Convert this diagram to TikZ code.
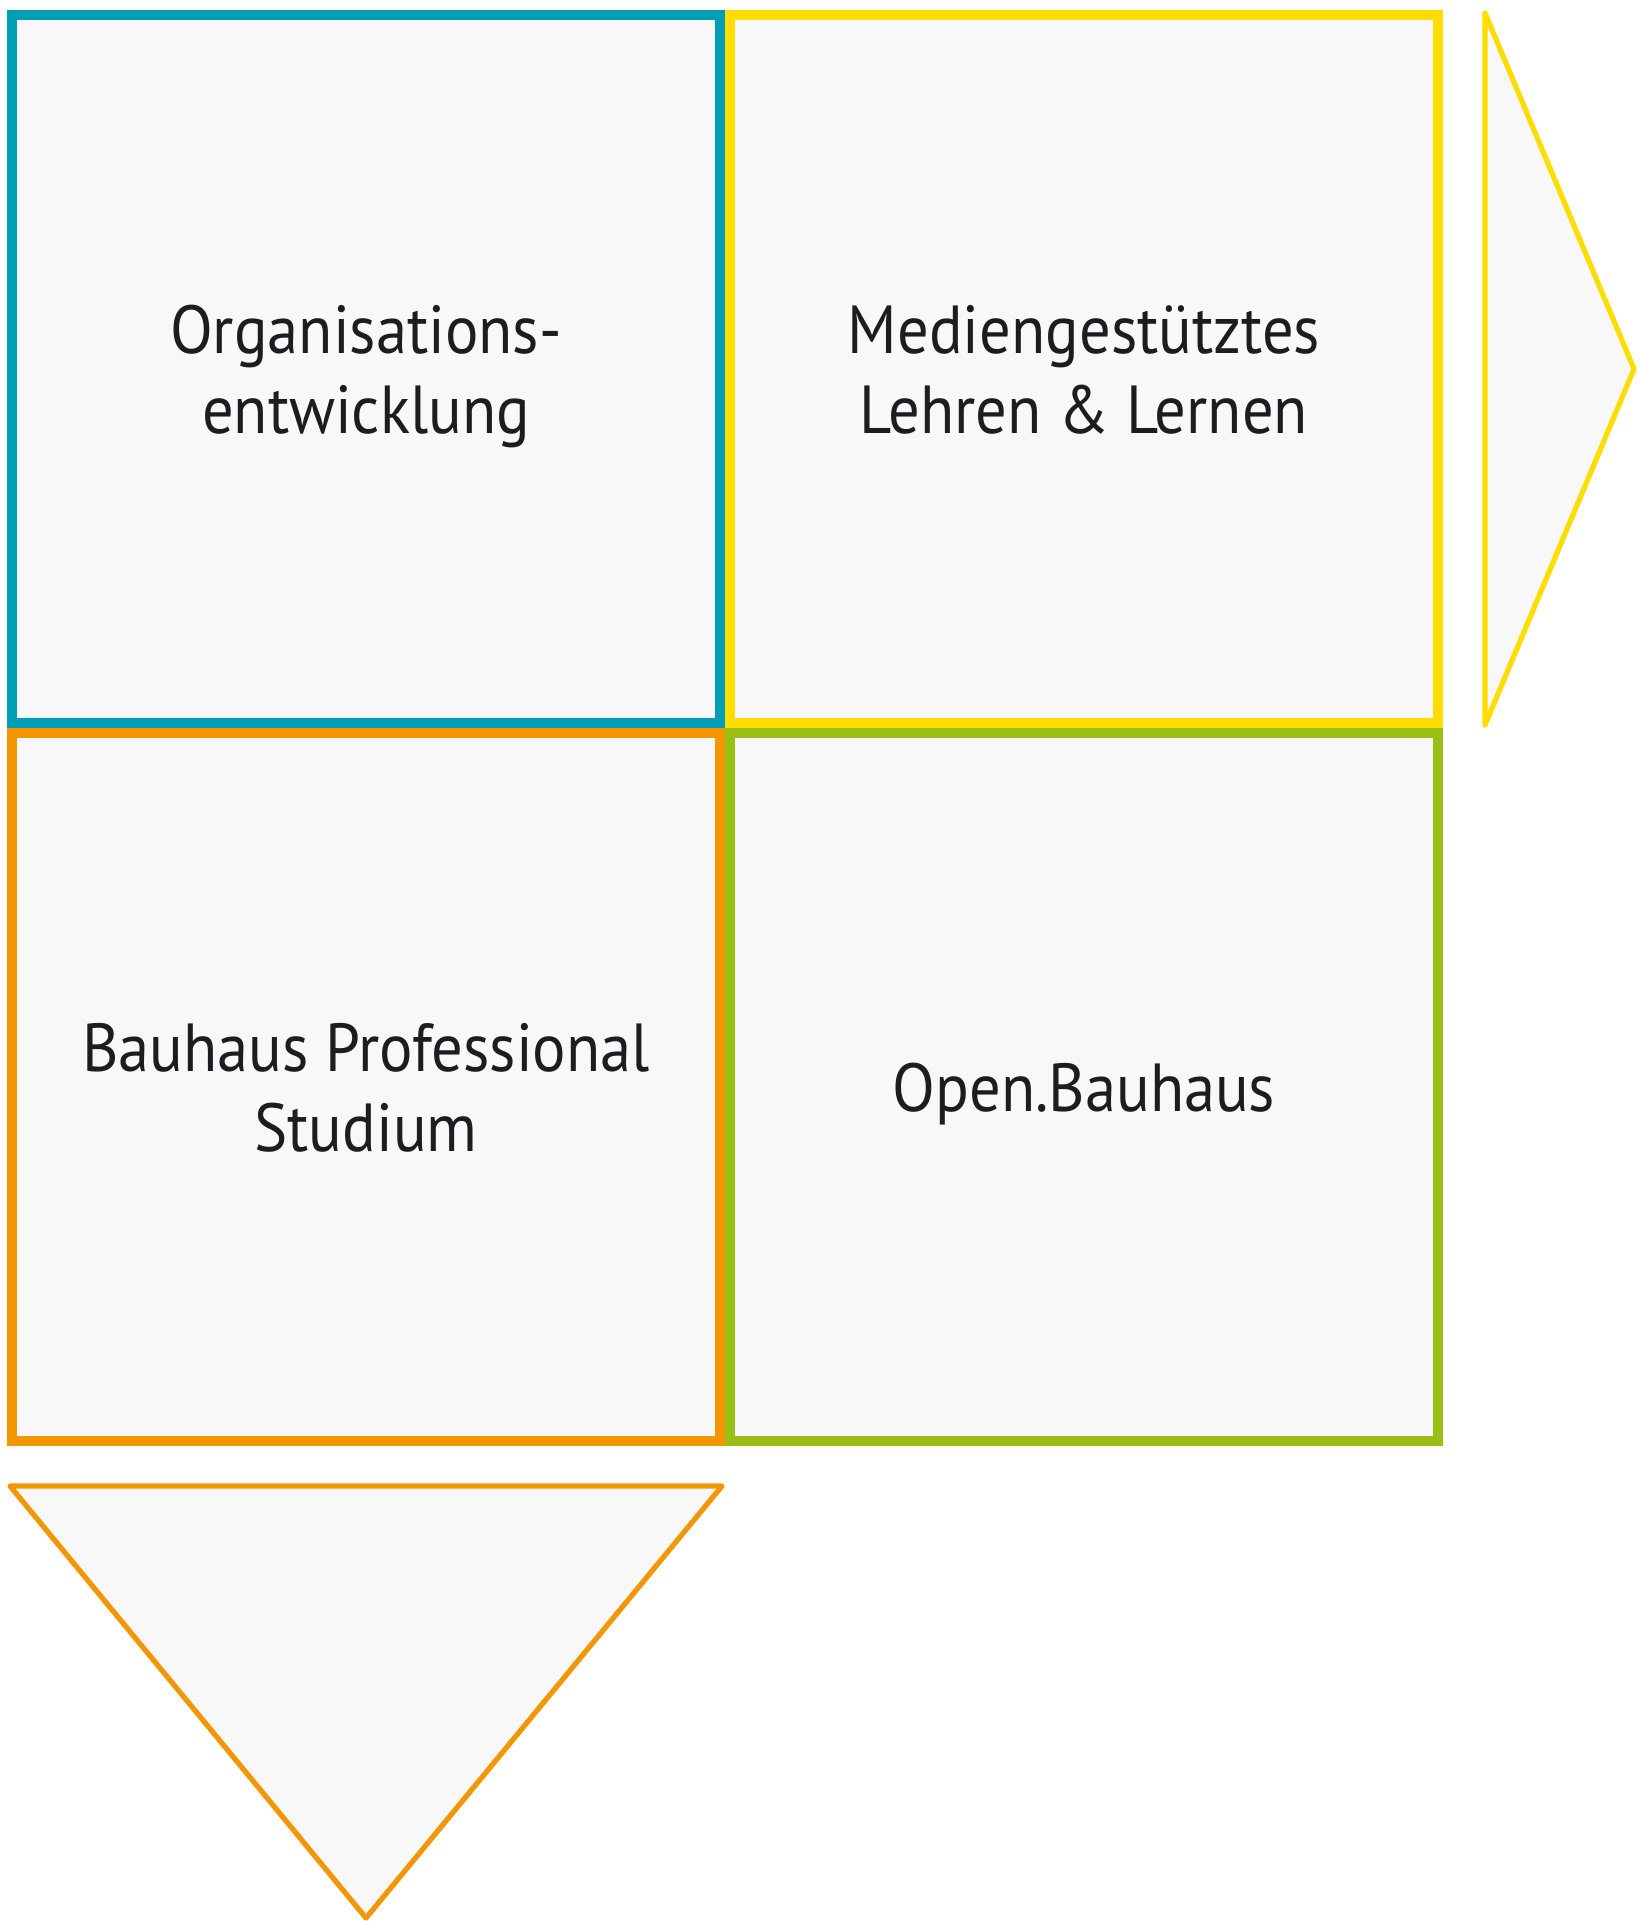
\documentclass[tikz,border=0pt]{standalone}
\usepackage{fontspec}
\setsansfont[FakeStretch=0.92]{PT Sans}
\usepackage{tikz}
\usetikzlibrary{positioning, calc}

\definecolor{bhteal}{RGB}{0,158,181}
\definecolor{bhyellow}{RGB}{255,221,0}
\definecolor{bhorange}{RGB}{243,150,0}
\definecolor{bhgreen}{RGB}{155,190,20}
\definecolor{bhgrey}{RGB}{248,248,248}
\definecolor{bhtext}{RGB}{29,29,33}

\begin{document}
\begin{tikzpicture}[x=0.5pt, y=-0.5pt, node distance=0pt and 0pt,
  every node/.style={align=center, text=bhtext, font=\sffamily\fontsize{34}{40}\selectfont},
  feld/.style={draw=#1, line width=5pt, fill=bhgrey, minimum width=354pt, minimum height=354pt, inner sep=0pt, text depth=0pt},
  spitze/.style={draw=#1, line width=2.6pt, fill=bhgrey, line join=round}]
  \useasboundingbox (0,0) rectangle (1640,1921);

  % Top row
  \node[feld=bhteal] (orga) at (366,369) {Organisations-\\entwicklung};
  \node[feld=bhyellow, right=of orga] (medien) {Mediengestütztes\\Lehren \& Lernen};

  % Bottom row
  \node[feld=bhorange, below=of orga] (prof) {Bauhaus Professional\\Studium};
  \node[feld=bhgreen, right=of prof] (open) {Open.Bauhaus};

  % Arrow heads
  \draw[spitze=bhyellow] ($(medien.north east)+(42,3)$) -- ($(medien.east)+(191,0)$) -- ($(medien.south east)+(42,-3)$) -- cycle;
  \draw[spitze=bhorange] ($(prof.south west)+(3,40)$) -- ($(prof.south east)+(-3,40)$) -- ($(prof.south)+(0,472)$) -- cycle;
\end{tikzpicture}
\end{document}
